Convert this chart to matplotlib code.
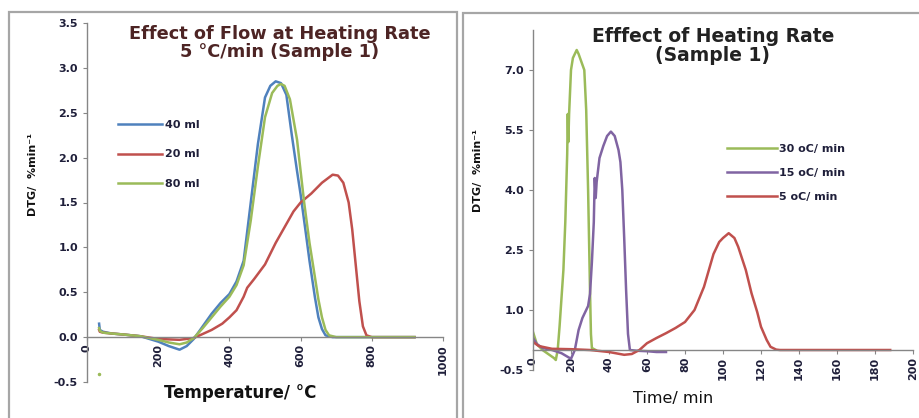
import numpy as np
import matplotlib.pyplot as plt
from matplotlib.patches import Rectangle

# left panel: effect of flow (5 C/min), DTG vs temperature
t40 = [34, 36, 45, 70, 100, 150, 200, 230, 260, 280, 300, 325, 350, 375, 400, 420, 440, 460, 480, 500,
       515, 530, 545, 560, 575, 590, 600, 615, 625, 640, 650, 660, 670, 690, 720, 800, 920]
dtg40 = [0.15, 0.08, 0.06, 0.04, 0.03, 0.01, -0.05, -0.10, -0.14, -0.10, -0.02, 0.12, 0.26, 0.38, 0.48,
         0.62, 0.85, 1.50, 2.15, 2.67, 2.80, 2.85, 2.83, 2.70, 2.26, 1.85, 1.59, 1.15, 0.85, 0.45, 0.22,
         0.09, 0.02, 0.0, 0.0, 0.0, 0.0]

t20 = [34, 36, 45, 70, 100, 150, 200, 260, 300, 350, 380, 400, 420, 440, 450, 470, 500, 530, 550, 580,
       600, 630, 660, 690, 705, 720, 735, 745, 755, 765, 775, 785, 800, 920]
dtg20 = [0.08, 0.06, 0.05, 0.04, 0.03, 0.01, -0.02, -0.03, -0.01, 0.08, 0.15, 0.22, 0.30, 0.45, 0.55,
         0.65, 0.81, 1.05, 1.19, 1.40, 1.50, 1.60, 1.72, 1.81, 1.80, 1.72, 1.50, 1.20, 0.80, 0.40, 0.12,
         0.02, 0.0, 0.0]

t80 = [34, 36, 45, 70, 100, 150, 200, 230, 260, 280, 300, 325, 350, 375, 400, 420, 440, 460, 480, 500,
       520, 535, 545, 555, 570, 590, 610, 625, 635, 650, 660, 670, 680, 700, 720, 800, 920]
dtg80 = [0.10, 0.07, 0.05, 0.04, 0.03, 0.01, -0.03, -0.06, -0.08, -0.06, -0.01, 0.10, 0.22, 0.34, 0.45,
         0.58, 0.80, 1.30, 1.90, 2.45, 2.72, 2.80, 2.82, 2.80, 2.65, 2.20, 1.50, 1.05, 0.80, 0.42, 0.22,
         0.08, 0.02, 0.0, 0.0, 0.0, 0.0]
stray80 = (34, -0.41)

# right panel: effect of heating rate, DTG vs time
time30 = [0, 2, 5, 8, 11, 12, 13, 14, 15, 16, 17, 18, 18.3, 18.6, 19, 20, 21, 23, 24, 25.5, 27, 28, 29,
          30, 30.5, 31, 33]
dtg30 = [0.45, 0.15, 0.0, -0.1, -0.2, -0.25, 0.0, 0.6, 1.3, 2.0, 3.2, 4.9, 5.9, 5.2, 5.9, 7.0, 7.3, 7.5,
         7.4, 7.2, 7.0, 6.0, 4.0, 1.5, 0.4, 0.05, 0.0]

time15 = [0, 2, 5, 10, 15, 20, 22, 24, 26, 29, 30, 31, 32, 32.5, 33, 33.5, 35, 37, 39, 41, 43, 45, 46,
          47, 48, 49, 50, 51, 55, 60, 65, 70]
dtg15 = [0.3, 0.15, 0.05, 0.0, -0.08, -0.22, 0.0, 0.5, 0.8, 1.1, 1.4, 2.2, 3.2, 4.3, 3.8, 4.2, 4.8, 5.1,
         5.35, 5.46, 5.35, 5.0, 4.7, 4.0, 2.8, 1.5, 0.4, 0.0, -0.02, -0.03, -0.05, -0.05]

time5 = [0, 3, 10, 20, 30, 40, 48, 52, 56, 60, 65, 70, 75, 80, 85, 90, 95, 98, 100, 103, 106, 108, 112,
         115, 118, 120, 123, 125, 128, 130, 150, 188]
dtg5 = [0.2, 0.1, 0.03, 0.02, 0.0, -0.05, -0.12, -0.1, 0.0, 0.17, 0.3, 0.42, 0.55, 0.7, 1.0, 1.58, 2.4,
        2.7, 2.8, 2.92, 2.8, 2.58, 2.0, 1.42, 0.95, 0.58, 0.25, 0.08, 0.01, 0.0, 0.0, 0.0]

blue = '#4F81BD'
red = '#C0504D'
green = '#9BBB59'
purple = '#8064A2'
axcol = '#868686'
tickcol = '#1f1f3a'

fig = plt.figure(figsize=(9.2, 4.18), dpi=100)

# grey frames around each chart
fig.patches.append(Rectangle((9 / 920, -0.02), 448 / 920, 1.02 - 12 / 418, transform=fig.transFigure,
                             fill=False, edgecolor='#a6a6a6', lw=1.6))
fig.patches.append(Rectangle((463 / 920, -0.02), 470 / 920, 1.02 - 13 / 418, transform=fig.transFigure,
                             fill=False, edgecolor='#a6a6a6', lw=1.6))


def style_axis(ax):
    for s in ['top', 'right']:
        ax.spines[s].set_visible(False)
    ax.spines['bottom'].set_position(('data', 0))
    for s in ['left', 'bottom']:
        ax.spines[s].set_color(axcol)
        ax.spines[s].set_linewidth(1.0)
    ax.tick_params(axis='both', direction='out', length=3, color=axcol, labelcolor=tickcol,
                   labelsize=8)
    ax.tick_params(axis='x', pad=2)
    for lab in ax.get_yticklabels():
        lab.set_fontweight('bold')
    for lab in ax.get_xticklabels():
        lab.set_fontweight('bold')
        lab.set_rotation(90)
        lab.set_va('top')
        lab.set_ha('center')
    ax.patch.set_alpha(0)


ax1 = fig.add_axes([87 / 920, 1 - 382 / 418, 356 / 920, 359 / 418])
ax1.plot(t40, dtg40, color=blue, lw=1.8, label='40 ml')
ax1.plot(t20, dtg20, color=red, lw=1.8, label='20 ml')
ax1.plot(t80, dtg80, color=green, lw=1.8, label='80 ml')
ax1.plot([stray80[0]], [stray80[1]], marker='o', ms=1.5, color=green, ls='none')
ax1.set_xlim(0, 1000)
ax1.set_ylim(-0.5, 3.5)
ax1.set_xticks(np.arange(0, 1001, 200))
ax1.set_yticks(np.arange(-0.5, 3.51, 0.5))
ax1.set_yticklabels(['%.1f' % v for v in np.arange(-0.5, 3.51, 0.5)])
style_axis(ax1)
leg1 = ax1.legend(loc='upper left', bbox_to_anchor=(118 / 920, 1 - 120 / 418),
                  bbox_transform=fig.transFigure, frameon=False, handlelength=4.0,
                  handletextpad=0.2, labelspacing=1.75, borderpad=0, borderaxespad=0,
                  prop={'size': 8, 'weight': 'bold'})
for txt in leg1.get_texts():
    txt.set_color(tickcol)

ax2 = fig.add_axes([533 / 920, 1 - 370 / 418, 380 / 920, 340 / 418])
ax2.plot(time30, dtg30, color=green, lw=1.8, label='30 oC/ min')
ax2.plot(time15, dtg15, color=purple, lw=1.8, label='15 oC/ min')
ax2.plot(time5, dtg5, color=red, lw=1.8, label='5 oC/ min')
ax2.set_xlim(0, 200)
ax2.set_ylim(-0.5, 8.0)
ax2.set_xticks(np.arange(0, 201, 20))
ax2.set_yticks(np.arange(-0.5, 7.01, 1.5))
ax2.set_yticklabels(['%.1f' % v for v in np.arange(-0.5, 7.01, 1.5)])
style_axis(ax2)
leg2 = ax2.legend(loc='upper left', bbox_to_anchor=(727 / 920, 1 - 144 / 418),
                  bbox_transform=fig.transFigure, frameon=False, handlelength=4.5,
                  handletextpad=0.2, labelspacing=1.25, borderpad=0, borderaxespad=0,
                  prop={'size': 8, 'weight': 'bold'})
for txt in leg2.get_texts():
    txt.set_color(tickcol)

titlecol = '#4d2424'
fig.text(280 / 920, 1 - 43 / 418, 'Effect of Flow at Heating Rate\n5 \u00b0C/min (Sample 1)',
         ha='center', va='center', fontsize=12.8, fontweight='bold', color=titlecol, linespacing=1.05)
fig.text(713 / 920, 1 - 46 / 418, 'Efffect of Heating Rate\n(Sample 1)',
         ha='center', va='center', fontsize=13.5, fontweight='bold', color='#222222', linespacing=0.95)

fig.text(240 / 920, 1 - 393 / 418, 'Temperature/ \u00b0C', ha='center', va='center', fontsize=12,
         fontweight='bold', color='#111111')
fig.text(673 / 920, 1 - 398 / 418, 'Time/ min', ha='center', va='center', fontsize=11.5,
         color='#111111')
fig.text(33 / 920, 1 - 175 / 418, 'DTG/  %min\u207b\u00b9', rotation=90, ha='center', va='center',
         fontsize=8, fontweight='bold', color='#111111')
fig.text(478 / 920, 1 - 170 / 418, 'DTG/  %min\u207b\u00b9', rotation=90, ha='center', va='center',
         fontsize=8, fontweight='bold', color='#111111')

fig.savefig('out.png', dpi=100)
